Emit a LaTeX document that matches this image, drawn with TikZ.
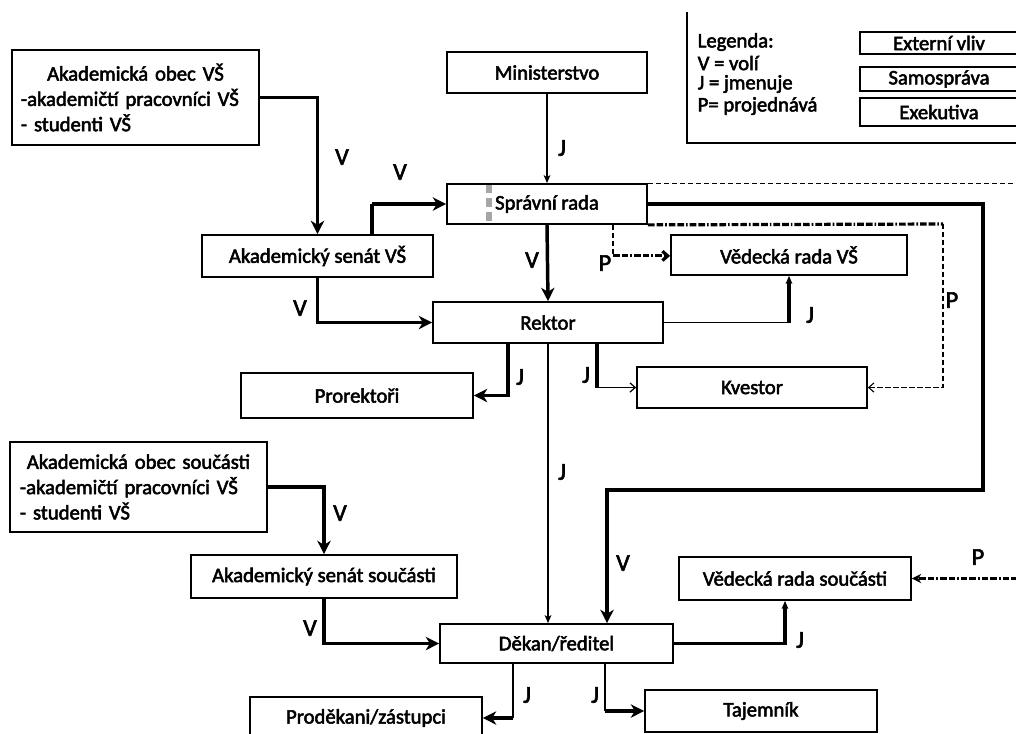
\documentclass[tikz,border=0pt]{standalone}
\usepackage{fontspec}
\setmainfont{Carlito}[FakeBold=2.5]
\usetikzlibrary{arrows.meta, calc}

\begin{document}
\begin{tikzpicture}[x=0.75pt, y=-0.75pt,
    box/.style={draw, line width=1.3pt, inner sep=0pt, align=center, font=\fontsize{15.5}{19}\selectfont},
    sz/.style 2 args={minimum width=#1*0.75pt, minimum height=#2*0.75pt},
    lbl/.style={font=\fontsize{18}{20}\selectfont},
    heavy/.style={line width=2.6pt},
    medium/.style={line width=1.6pt},
    light/.style={line width=0.9pt},
    bigtip/.style={-{Stealth[length=10pt, width=10pt, inset=3pt]}},
    smalltip/.style={-{Stealth[length=6pt, width=5pt, inset=1.5pt]}},
    opentip/.style={-{Straight Barb[length=4pt, width=7pt]}},
    thindash/.style={line width=0.8pt, dash pattern=on 4pt off 2pt},
    dashdot/.style={line width=2.4pt, dash pattern=on 5pt off 1.5pt on 5pt off 1.5pt on 1.2pt off 1.5pt}
  ]
  \useasboundingbox (0,0) rectangle (1016,733);

  % legenda
  \draw[line width=1.1pt] (687,12) -- (687,143) -- (1018,143);
  \node[anchor=west, font=\fontsize{15.5}{19}\selectfont] (legHead) at (693,42) {Legenda:};
  \node[anchor=west, font=\fontsize{15.5}{19}\selectfont] (legV) at (693,63) {V = volí};
  \node[anchor=west, font=\fontsize{15.5}{19}\selectfont] (legJ) at (693,84) {J = jmenuje};
  \node[anchor=west, font=\fontsize{15.5}{19}\selectfont] (legP) at (693,106) {P= projednává};
  \node[box, line width=1.8pt, sz={158}{22}] (legExt) at (939,43) {Externí vliv};
  \node[box, line width=1.8pt, sz={158}{24}] (legSam) at (939,79) {Samospráva};
  \node[box, line width=1.8pt, sz={158}{28}] (legExe) at (939,112) {Exekutiva};

  % uzly
  \node[box, sz={247}{95}, text width=172pt, inner xsep=6.5pt, align=left] (obecVS) at (135.5,97.5)
    {\makebox[\linewidth]{Akademická obec VŠ}\\-akademičtí pracovníci VŠ\\- studenti VŠ};
  \node[box, sz={200}{41}] (minist) at (547,72.5) {Ministerstvo};
  \node[box, sz={200}{40}] (sprava) at (547,204) {Správní rada};
  \node[box, sz={231}{42}] (senatVS) at (317.5,256) {Akademický senát VŠ};
  \node[box, sz={236}{40}] (vedVS) at (789,255) {Vědecká rada VŠ};
  \node[box, sz={230}{41}] (rektor) at (548,322.5) {Rektor};
  \node[box, sz={232}{45}] (prorekt) at (357,395.5) {Prorektoři};
  \node[box, sz={230}{41}] (kvestor) at (752,387.5) {Kvestor};
  \node[box, sz={257}{90}, text width=178pt, inner xsep=7.5pt, align=left] (obecSou) at (138.5,487)
    {\makebox[\linewidth]{Akademická obec součásti}\\-akademičtí pracovníci VŠ\\- studenti VŠ};
  \node[box, sz={266}{43}] (senatSou) at (324,576.5) {Akademický senát součásti};
  \node[box, sz={232}{43}] (vedSou) at (795,578.5) {Vědecká rada součásti};
  \node[box, sz={233}{39}] (dekan) at (556.5,643.5) {Děkan/ředitel};
  \node[box, sz={232}{42}] (prodek) at (366,718) {Proděkani/zástupci};
  \node[box, sz={232}{42}] (tajem) at (761,711) {Tajemník};

  % znacka u spravni rady
  \fill[gray!70] (486,185) rectangle (492,193);
  \fill[gray!70] (486,198) rectangle (492,207);
  \fill[gray!70] (486,212) rectangle (492,221);

  % volby
  \draw[heavy, bigtip] (obecVS.east) -| (senatVS.north);
  \coordinate (svUp) at ($(senatVS.north)+(54.5,0)$);
  \draw[line width=3.6pt] (svUp) -- (svUp |- sprava.west);
  \draw[heavy, bigtip] (svUp |- sprava.west) -- (sprava.west);
  \draw[heavy, bigtip] (senatVS.south) |- (rektor.west);
  \draw[heavy, bigtip] (sprava.south) -- (rektor.north);
  \draw[heavy, bigtip] (obecSou.east) -| (senatSou.north);
  \draw[heavy, bigtip] (senatSou.south) |- (dekan.west);
  \coordinate (vBend) at (983,490);
  \draw[heavy, bigtip] (sprava.east) -| (vBend) -| ($(dekan.north)+(50.5,0)$);

  % jmenovani
  \draw[medium, smalltip] (minist.south) -- (sprava.north);
  \draw[medium, smalltip] (rektor.south) -- (rektor.south |- dekan.north);
  \draw[heavy, bigtip] ($(rektor.south)+(-40,0)$) |- (prorekt.east);
  \coordinate (kvDrop) at ($(rektor.south)+(49,0)$);
  \draw[heavy] (kvDrop) -- (kvDrop |- kvestor.west);
  \draw[light, opentip] (kvDrop |- kvestor.west) -- (kvestor.west);
  \coordinate (vvKnee) at (rektor.east -| vedVS.south);
  \draw[light] (rektor.east) -- (vvKnee);
  \draw[heavy, smalltip] (vvKnee) -- (vedVS.south);
  \coordinate (pdDrop) at ($(dekan.south)+(-43.5,0)$);
  \draw[light] (pdDrop) -- (pdDrop |- prodek.east);
  \draw[heavy, bigtip] (pdDrop |- prodek.east) -- (prodek.east);
  \coordinate (tjDrop) at ($(dekan.south)+(48.5,0)$);
  \draw[light] (tjDrop) -- (tjDrop |- tajem.west);
  \draw[heavy, bigtip] (tjDrop |- tajem.west) -- (tajem.west);
  \draw[heavy, smalltip] (dekan.east) -| ($(vedSou.south)+(-10,0)$);

  % projednavani
  \draw[thindash] (sprava.north east) -- ++(372,0);
  \coordinate (pBend) at (943,224);
  \draw[dashdot] (sprava.south east) -- (pBend);
  \draw[thindash, opentip] (pBend) |- (kvestor.east);
  \coordinate (pDrop) at ($(sprava.south)+(66,0)$);
  \coordinate (pKnee) at ($(pDrop)+(0,31)$);
  \draw[thindash] (pDrop) -- (pKnee);
  \draw[dashdot, opentip] (pKnee) -- (pKnee -| vedVS.west);
  \coordinate (pEdge) at (1018,578.5);
  \draw[dashdot, -{Stealth[length=7pt, width=7pt]}] (pEdge) -- (vedSou.east);

  % popisky
  \node[lbl] (lbObecV) at (342,157) {V};
  \node[lbl] (lbSenV) at (400,172) {V};
  \node[lbl] (lbMinJ) at (562,148) {J};
  \node[lbl] (lbSprV) at (532,260) {V};
  \node[lbl] (lbRekV) at (300,308) {V};
  \node[lbl] (lbVedP) at (605,263) {P};
  \node[lbl] (lbVedJ) at (810,315) {J};
  \node[lbl] (lbKvP) at (952,300) {P};
  \node[lbl] (lbProJ) at (520,377) {J};
  \node[lbl] (lbKvJ) at (586,375) {J};
  \node[lbl] (lbDekJ) at (562,472) {J};
  \node[lbl] (lbSouV) at (340,513) {V};
  \node[lbl] (lbDekV) at (623,563) {V};
  \node[lbl] (lbVsP) at (978,557) {P};
  \node[lbl] (lbSenSouV) at (310,628) {V};
  \node[lbl] (lbVsJ) at (800,640) {J};
  \node[lbl] (lbPdJ) at (527,695) {J};
  \node[lbl] (lbTjJ) at (595,695) {J};
\end{tikzpicture}
\end{document}
